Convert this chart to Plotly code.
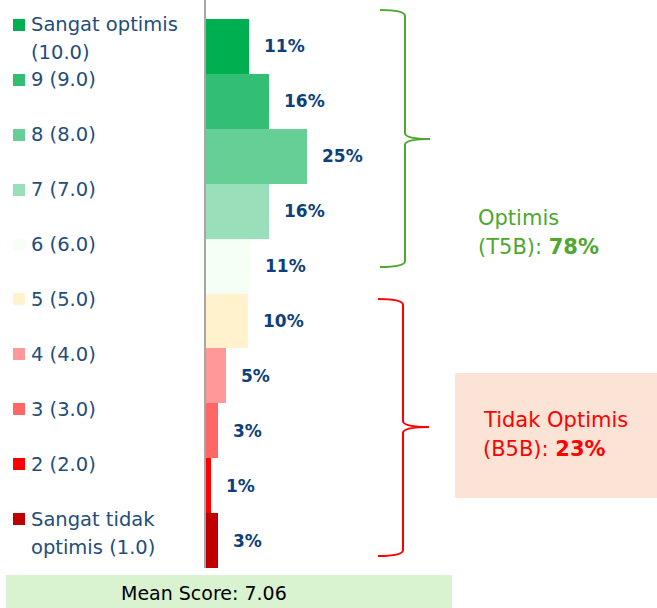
import plotly.graph_objects as go

# ---------------- data ----------------
categories = [
    "Sangat optimis (10.0)", "9 (9.0)", "8 (8.0)", "7 (7.0)", "6 (6.0)",
    "5 (5.0)", "4 (4.0)", "3 (3.0)", "2 (2.0)", "Sangat tidak optimis (1.0)",
]
legend_labels = [
    "Sangat optimis<br>(10.0)", "9 (9.0)", "8 (8.0)", "7 (7.0)", "6 (6.0)",
    "5 (5.0)", "4 (4.0)", "3 (3.0)", "2 (2.0)", "Sangat tidak<br>optimis (1.0)",
]
values = [10.7, 15.7, 24.9, 15.6, 10.8, 10.4, 5.0, 3.0, 1.3, 2.9]
value_labels = ["11%", "16%", "25%", "16%", "11%", "10%", "5%", "3%", "1%", "3%"]
bar_colors = ["#00B050", "#33BF73", "#66CF96", "#99DFB9", "#F5FFF5",
              "#FFF2CC", "#FF9999", "#FF6666", "#FF0000", "#C00000"]
t5b_label = "78%"
b5b_label = "23%"
mean_score = 7.06

W, H = 657, 608
def px(x):
    return x / W
def py(y):
    return 1 - y / H

LEG_FONT = "DejaVu Sans"
VAL_FONT = "DejaVu Sans"
BOX_FONT = "DejaVu Sans"

fig = go.Figure()
fig.add_trace(go.Bar(
    x=values, y=categories, orientation="h",
    marker=dict(color=bar_colors, line=dict(width=0)),
    showlegend=False, hoverinfo="skip",
))

annotations = []
# value labels
for c, v, t in zip(categories, values, value_labels):
    annotations.append(dict(
        x=v, y=c, xref="x", yref="y", text=t, showarrow=False,
        xanchor="left", yanchor="middle", xshift=13,
        font=dict(family=VAL_FONT, size=17, color="#0E3F7C", weight="bold"),
    ))
# legend-like labels
for c, lab, col in zip(categories, legend_labels, bar_colors):
    annotations.append(dict(
        x=px(13), y=c, xref="paper", yref="y", text=" ", showarrow=False,
        xanchor="left", yanchor="middle", yshift=21.5,
        width=12, height=12, bgcolor=col, borderpad=0, borderwidth=0,
        font=dict(size=6),
    ))
    for j, line in enumerate(lab.split("<br>")):
        annotations.append(dict(
            x=px(29), y=c, xref="paper", yref="y", text=line, showarrow=False,
            xanchor="left", yanchor="middle", yshift=21.5 - 28 * j,
            font=dict(family=LEG_FONT, size=19.5, color="#1F4E79"),
        ))

# T5B / B5B texts
annotations += [
    dict(x=px(476), y=py(218), xref="paper", yref="paper", text="Optimis",
         showarrow=False, xanchor="left", yanchor="middle",
         font=dict(family=BOX_FONT, size=21, color="#4EA72E")),
    dict(x=px(476), y=py(247), xref="paper", yref="paper",
         text="(T5B): <b>" + t5b_label + "</b>",
         showarrow=False, xanchor="left", yanchor="middle",
         font=dict(family=BOX_FONT, size=21, color="#4EA72E")),
    dict(x=px(481), y=py(420), xref="paper", yref="paper", text="Tidak Optimis",
         showarrow=False, xanchor="left", yanchor="middle",
         font=dict(family=BOX_FONT, size=21, color="#FF0000")),
    dict(x=px(481), y=py(449), xref="paper", yref="paper",
         text="(B5B): <b>" + b5b_label + "</b>",
         showarrow=False, xanchor="left", yanchor="middle",
         font=dict(family=BOX_FONT, size=21, color="#FF0000")),
    dict(x=px(204), y=py(593), xref="paper", yref="paper",
         text="Mean Score: " + f"{mean_score:.2f}",
         showarrow=False, xanchor="center", yanchor="middle",
         font=dict(family=BOX_FONT, size=19, color="#000000")),
]

def brace(x0, xm, xt, top, mid, bot, r=6):
    return (f"M {px(x0)} {py(top)} Q {px(xm)} {py(top)} {px(xm)} {py(top + r)} "
            f"L {px(xm)} {py(mid - r)} Q {px(xm)} {py(mid)} {px(xt)} {py(mid)} "
            f"Q {px(xm)} {py(mid)} {px(xm)} {py(mid + r)} "
            f"L {px(xm)} {py(bot - r)} Q {px(xm)} {py(bot)} {px(x0)} {py(bot)}")

shapes = [
    dict(type="rect", xref="paper", yref="paper", x0=px(6), x1=px(452),
         y0=0, y1=py(575), fillcolor="#D9F2D0", line=dict(width=0), layer="below"),
    dict(type="rect", xref="paper", yref="paper", x0=px(455), x1=1,
         y0=py(498), y1=py(373), fillcolor="#FBE3D6", line=dict(width=0), layer="below"),
    dict(type="path", xref="paper", yref="paper",
         path=brace(380, 405, 430, 10, 139, 267), line=dict(color="#4EA72E", width=2)),
    dict(type="path", xref="paper", yref="paper",
         path=brace(378, 403, 429, 299, 427, 556), line=dict(color="#FF0000", width=2)),
]

fig.update_layout(
    width=W, height=H,
    margin=dict(l=0, r=0, t=0, b=0),
    paper_bgcolor="white", plot_bgcolor="white",
    bargap=0,
    xaxis=dict(domain=[px(206), 1], range=[0, 111.6], visible=False, fixedrange=True),
    yaxis=dict(domain=[py(568), 1], range=[9.5, -0.846], type="category",
               categoryorder="array", categoryarray=categories,
               showticklabels=False, ticks="", showgrid=False, zeroline=False,
               showline=True, linecolor="#A6A6A6", linewidth=2, fixedrange=True),
    annotations=annotations,
    shapes=shapes,
)

fig.write_html("out.html", config={"displayModeBar": False},
               post_script="document.body.style.margin='0';document.body.style.overflow='hidden';")
